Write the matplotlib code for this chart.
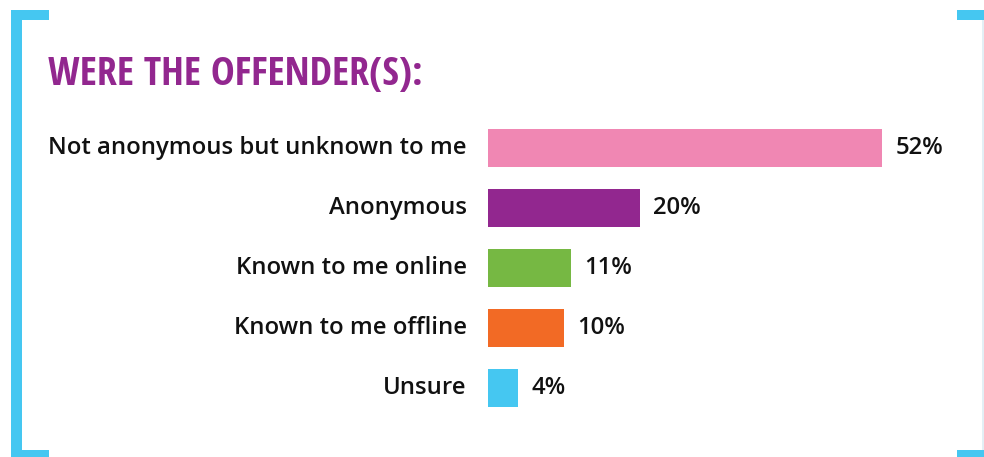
import matplotlib
matplotlib.use('Agg')
import matplotlib.pyplot as plt
from matplotlib.patches import Rectangle

# data
categories = ['Not anonymous but unknown to me', 'Anonymous', 'Known to me online',
              'Known to me offline', 'Unsure']
values = [52, 20, 11, 10, 4]
colors = ['#F087B3', '#92278F', '#76B843', '#F26A25', '#45C7F1']
title = 'WERE THE OFFENDER(S):'

W, H = 984, 457
fig = plt.figure(figsize=(W / 100, H / 100), dpi=100)


# pixel box -> figure fraction
def box(x0, y0, x1, y1):
    return [x0 / W, 1 - y1 / H, (x1 - x0) / W, (y1 - y0) / H]


# bracket frame
blue = '#45C7F1'
for x0, y0, x1, y1 in [(11, 10, 22, 457), (11, 10, 49, 20), (11, 450, 49, 457),
                       (957, 10, 984, 20), (957, 450, 984, 457)]:
    fig.patches.append(Rectangle((x0 / W, 1 - y1 / H), (x1 - x0) / W, (y1 - y0) / H,
                                 transform=fig.transFigure, color=blue, lw=0))
fig.patches.append(Rectangle((982 / W, 1 - 450 / H), 1.5 / W, 430 / H,
                             transform=fig.transFigure, color='#e3eff5', lw=0))

fig.text(48 / W, 1 - 85 / H, title, fontsize=28.9, fontweight='bold', color='#92278F',
         fontstretch='condensed',
         family=['Open Sans Condensed', 'Roboto Condensed', 'Liberation Sans Narrow',
                 'Open Sans', 'DejaVu Sans'],
         ha='left', va='baseline')

ax = fig.add_axes(box(488, 118, 943, 418))
y = list(range(len(categories)))
ax.barh(y, values, height=0.633, color=colors)
ax.set_xlim(0, 60)
ax.set_ylim(4.5, -0.5)
ax.axis('off')

for yi, cat, v in zip(y, categories, values):
    ax.text(-2.8, yi, cat, ha='right', va='center', fontsize=17.2, fontweight='semibold',
            family='Open Sans', color='#111111')
    ax.text(v + 1.7, yi, f'{v}%', ha='left', va='center', fontsize=17.2, fontweight='semibold',
            family='Open Sans', color='#111111')

fig.savefig('out.png', dpi=100)
